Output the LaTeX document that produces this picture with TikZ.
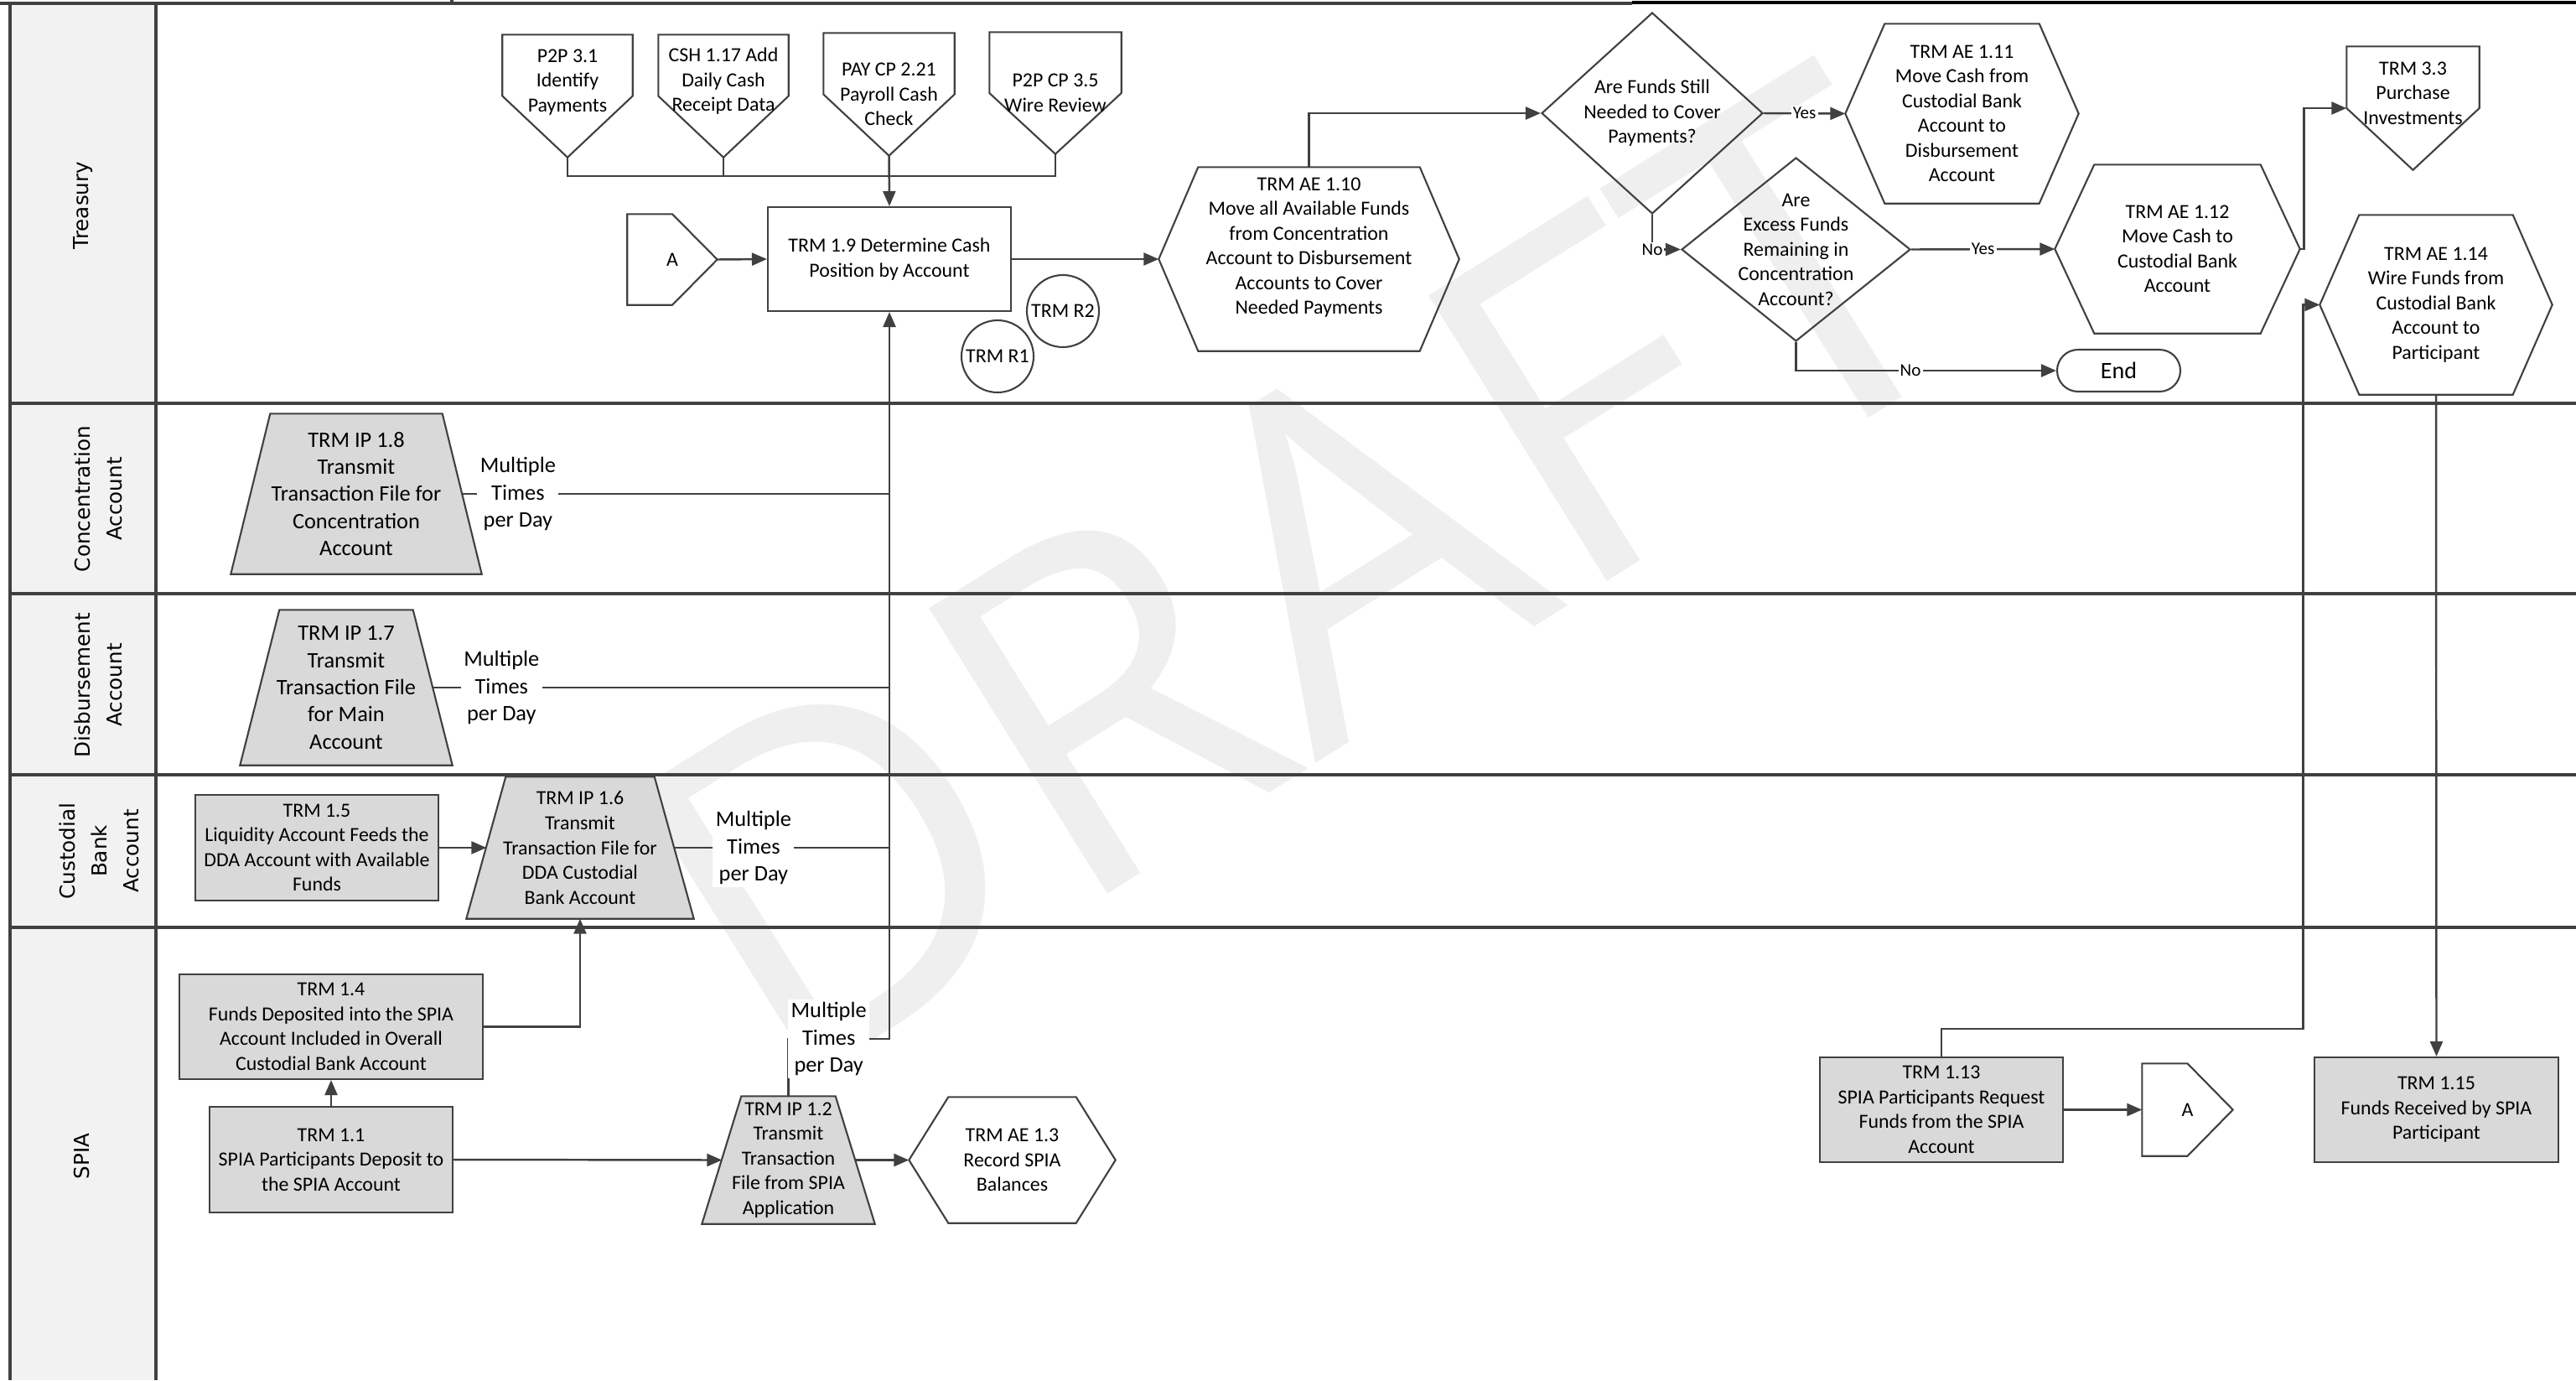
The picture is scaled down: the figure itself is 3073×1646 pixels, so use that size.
\documentclass[tikz,border=0pt]{standalone}
\usepackage{fontspec}
\setmainfont{Carlito}
\newfontfamily\lanefont{DejaVu Sans}
\newfontfamily\markfont{Open Sans}
\usetikzlibrary{arrows.meta,shapes.geometric,backgrounds}

\definecolor{ink}{HTML}{404040}
\definecolor{procgray}{HTML}{D9D9D9}
\definecolor{headgray}{HTML}{F2F2F2}
\definecolor{markgray}{HTML}{EFEFEF}

\begin{document}
\begin{tikzpicture}[x=0.1mm, y=-0.1mm,
    every node/.style={font=\fontsize{6.8}{8.4}\selectfont, align=center, inner sep=0pt},
    dims/.style 2 args={minimum width=#1, minimum height=#2},
    bigtext/.style={font=\fontsize{7.5}{9.2}\selectfont},
    outline/.style={draw=ink, line width=0.6pt},
    lane/.style={draw=ink, line width=0.9pt},
    flow/.style={draw=ink, line width=0.7pt},
    arrow/.style={flow, -{Triangle[length=1.8mm, width=1.5mm]}},
    procbox/.style={outline, fill=procgray},
    lanetitle/.style={rotate=90, font=\lanefont\fontsize{7}{10.8}\selectfont},
    yn/.style={fill=white, font=\fontsize{6}{7.4}\selectfont, inner sep=0.6pt},
    mult/.style={fill=white, bigtext, inner sep=1pt}]

    \useasboundingbox (0,0) rectangle (3073,1646);

    % Lane titles
    \node[lanetitle] (lnTreasury) at (99,245) {Treasury};
    \node[lanetitle] (lnConc) at (117,595) {Concentration\\Account};
    \node[lanetitle] (lnDisb) at (117,817) {Disbursement\\Account};
    \node[lanetitle] (lnCust) at (118,1015) {Custodial\\Bank\\Account};
    \node[lanetitle] (lnSpia) at (98,1379) {SPIA};

    % Treasury: off-page references
    \node[dims={15.4mm}{14.5mm}, label={[yshift=1.65mm]center:{P2P 3.1\\Identify\\Payments}}] (p2p31) at (677,114.5) {};
    \node[dims={15.4mm}{14.5mm}, label={[yshift=1.75mm]center:{CSH 1.17 Add\\Daily Cash\\Receipt Data}}] (csh117) at (863,114.5) {};
    \node[dims={15.5mm}{14.5mm}, label={center:{PAY CP 2.21\\Payroll Cash\\Check}}] (pay221) at (1060.5,112.5) {};
    \node[dims={15.6mm}{14.4mm}, label={center:{P2P CP 3.5\\Wire Review}}] (p2p35) at (1259,111) {};
    \node[dims={15.7mm}{14.6mm}, label={[yshift=1.8mm]center:{TRM 3.3\\Purchase\\Investments}}] (trm33) at (2878.5,129) {};

    % Treasury: process and decisions
    \node[dims={10.6mm}{10.7mm}] (aT) at (802,309.5) {A};
    \node[outline, dims={29mm}{12.4mm}] (b19) at (1061,309) {TRM 1.9 Determine Cash\\Position by Account};
    \node[outline, circle, minimum size=8.6mm] (r2) at (1268,371) {TRM R2};
    \node[outline, circle, minimum size=8.6mm] (r1) at (1190,425) {TRM R1};
    \node[dims={35.7mm}{21.8mm}, label={[yshift=1.4mm]center:{TRM AE 1.10\\Move all Available Funds\\from Concentration\\Account to Disbursement\\Accounts to Cover\\Needed Payments}}] (h110) at (1561.5,309) {};
    \node[outline, diamond, dims={26.4mm}{24mm}, label={center:{Are Funds Still\\Needed to Cover\\Payments?}}] (d1) at (1971,135) {};
    \node[dims={27.7mm}{21.3mm}] (h111) at (2340.5,135.5) {TRM AE 1.11\\Move Cash from\\Custodial Bank\\Account to\\Disbursement\\Account};
    \node[outline, diamond, dims={27.3mm}{21.9mm}, label={center:{Are\\Excess Funds\\Remaining in\\Concentration\\Account?}}] (d2) at (2142.5,297.5) {};
    \node[dims={29.1mm}{20mm}] (h112) at (2597.5,297) {TRM AE 1.12\\Move Cash to\\Custodial Bank\\Account};
    \node[outline, rounded corners=2.5mm, dims={14.7mm}{5mm}, font=\fontsize{8}{9}\selectfont] (endT) at (2527.5,442) {End};
    \node[dims={27.6mm}{21.3mm}] (h114) at (2906,363.5) {TRM AE 1.14\\Wire Funds from\\Custodial Bank\\Account to\\Participant};

    % Concentration, Disbursement and Custodial Bank lanes
    \node[dims={29.8mm}{19mm}, bigtext] (t18) at (425,589) {TRM IP 1.8\\Transmit\\Transaction File for\\Concentration\\Account};
    \node[dims={25.2mm}{18.4mm}, bigtext] (t17) at (413,820) {TRM IP 1.7\\Transmit\\Transaction File\\for Main\\Account};
    \node[procbox, dims={29mm}{12.6mm}] (b15) at (378,1011) {TRM 1.5\\Liquidity Account Feeds the\\DDA Account with Available\\Funds};
    \node[dims={27mm}{16.8mm}] (t16) at (692,1011) {TRM IP 1.6\\Transmit\\Transaction File for\\DDA Custodial\\Bank Account};

    % SPIA lane
    \node[procbox, dims={36.2mm}{12.5mm}] (b14) at (395,1224.5) {TRM 1.4\\Funds Deposited into the SPIA\\Account Included in Overall\\Custodial Bank Account};
    \node[procbox, dims={29mm}{12.6mm}] (b11) at (395,1383) {TRM 1.1\\SPIA Participants Deposit to\\the SPIA Account};
    \node[dims={20.5mm}{15.1mm}] (t12) at (940.5,1383.5) {TRM IP 1.2\\Transmit\\Transaction\\File from SPIA\\Application};
    \node[dims={24.5mm}{14.9mm}] (h13) at (1207.5,1383.5) {TRM AE 1.3\\Record SPIA\\Balances};
    \node[procbox, dims={29mm}{12.5mm}] (b113) at (2316,1323.5) {TRM 1.13\\SPIA Participants Request\\Funds from the SPIA\\Account};
    \node[dims={10.7mm}{10.9mm}] (aS) at (2609.5,1323.5) {A};
    \node[procbox, dims={29.1mm}{12.5mm}] (b115) at (2906.5,1323.5) {TRM 1.15\\Funds Received by SPIA\\Participant};

    % Connectors
    \coordinate (merge) at (1061,210);
    \coordinate (spiajoin) at (1061,1239);
    \draw[flow] (p2p31.south) |- (merge);
    \draw[flow] (csh117.south) |- (merge);
    \draw[flow] (p2p35.south) |- (merge);
    \draw[arrow] (pay221.south) -- (b19.north);
    \draw[arrow] (aT.east) -- (b19.west);
    \draw[arrow] (b19.east) -- (h110.west);
    \draw[arrow] (h110.north) |- (d1.west);
    \draw[arrow] (d1.east) -- node[yn]{Yes} (h111.west);
    \draw[arrow] (d1.south) |- node[yn, pos=0.5]{No} (d2.west);
    \draw[arrow] (d2.east) -- node[yn]{Yes} (h112.west);
    \draw[arrow] (d2.south) |- node[yn, pos=0.72]{No} (endT.west);
    \draw[arrow] (h112.east) -- ++(5,0) |- (trm33.west);
    \draw[arrow] (b113.north) -- ++(0,-33) -| ([xshift=-2mm]h114.west) -- (h114.west);
    \draw[arrow] (h114.south) -- (b115.north);
    \draw[arrow] (b113.east) -- (aS.west);

    \draw[flow] ([xshift=-2.3mm]t18.east) -- node[mult, pos=0.13]{Multiple\\Times\\per Day} (b19.south |- t18.east);
    \draw[flow] ([xshift=-2.3mm]t17.east) -- node[mult, pos=0.15]{Multiple\\Times\\per Day} (b19.south |- t17.east);
    \draw[flow] ([xshift=-2.4mm]t16.east) -- node[mult, pos=0.37]{Multiple\\Times\\per Day} (b19.south |- t16.east);
    \draw[arrow] (b15.east) -- ([xshift=2.4mm]t16.west);
    \draw[arrow] (b14.east) -| (t16.south);
    \draw[arrow] (b11.north) -- (b14.south);
    \draw[arrow] (b11.east) -- ([xshift=2.4mm]t12.west);
    \draw[arrow] ([xshift=-2.4mm]t12.east) -- (h13.west);
    \draw[arrow] (t12.north) |- node[mult, pos=0.7]{Multiple\\Times\\per Day} (spiajoin) -- (b19.south);

    \begin{scope}[on background layer]
        % Pool, watermark and lanes
        \fill[headgray] (12,4) rectangle (186,1646);
        \node[rotate=32, text=markgray, font=\markfont\fontsize{160}{160}\selectfont] (draft) at (1547,687) {DRAFT};
        \draw[lane] (0,4) -- (1947,4);
        \draw[black, line width=1.3pt] (1947,3) -- (3073,3);
        \draw[lane] (539,0) -- (539,4);
        \draw[lane] (12,4) -- (12,1646);
        \draw[lane] (186,4) -- (186,1646);
        \foreach \y in {481,708,924,1106}
            \draw[lane] (12,\y) -- (3073,\y);

        % Hexagons
        \foreach \n in {h110,h111,h112,h114,h13}
            \draw[outline] ([xshift=4.7mm]\n.north west) -- ([xshift=-4.7mm]\n.north east) -- (\n.east)
                -- ([xshift=-4.7mm]\n.south east) -- ([xshift=4.7mm]\n.south west) -- (\n.west) -- cycle;

        % Trapezoids
        \foreach \n in {t18,t17,t16,t12}
            \filldraw[procbox] ([xshift=4.7mm]\n.north west) -- ([xshift=-4.7mm]\n.north east)
                -- (\n.south east) -- (\n.south west) -- cycle;

        % Off-page references and connectors
        \foreach \n in {p2p31,csh117,pay221,p2p35,trm33}
            \draw[outline] (\n.north west) -- (\n.north east) -- (\n.east) -- (\n.south) -- (\n.west) -- cycle;
        \foreach \n in {aT,aS}
            \draw[outline] (\n.north west) -- (\n.north) -- (\n.east) -- (\n.south) -- (\n.south west) -- cycle;
    \end{scope}
\end{tikzpicture}
\end{document}
